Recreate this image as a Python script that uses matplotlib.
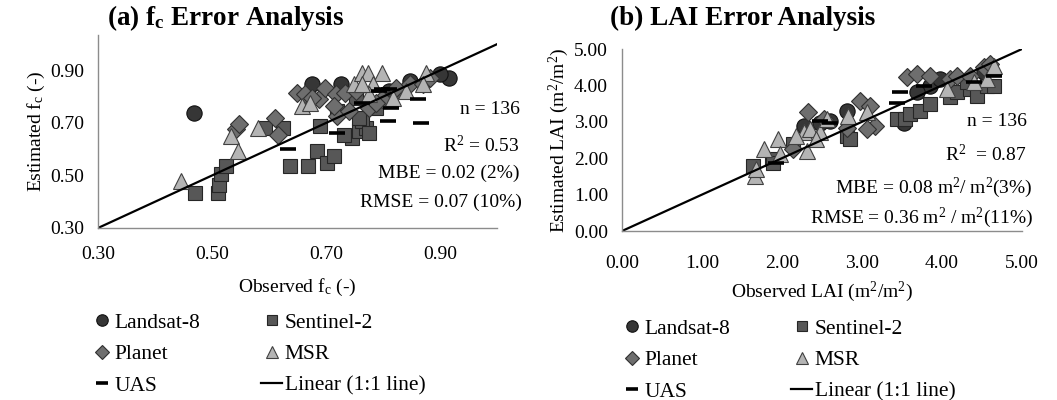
import matplotlib
matplotlib.use("Agg")
import matplotlib.pyplot as plt

plt.rcParams['font.family'] = ['Liberation Serif', 'DejaVu Serif']
plt.rcParams['mathtext.fontset'] = 'custom'
plt.rcParams['mathtext.rm'] = 'Liberation Serif'
plt.rcParams['mathtext.it'] = 'Liberation Serif:italic'
plt.rcParams['mathtext.bf'] = 'Liberation Serif:bold'

# ---------------- data: (a) fc ----------------
fc_landsat_x = [0.915, 0.900, 0.847, 0.675, 0.726, 0.468, 0.811]
fc_landsat_y = [0.873, 0.886, 0.860, 0.847, 0.847, 0.739, 0.822]
fc_sentinel_x = [0.471, 0.510, 0.513, 0.516, 0.525, 0.637, 0.669, 0.684, 0.702, 0.714, 0.746, 0.731,
                 0.758, 0.770, 0.764, 0.758, 0.690, 0.593, 0.625, 0.720, 0.752, 0.788, 0.776, 0.829]
fc_sentinel_y = [0.434, 0.434, 0.465, 0.504, 0.536, 0.536, 0.536, 0.593, 0.548, 0.574, 0.644, 0.656,
                 0.669, 0.682, 0.707, 0.720, 0.688, 0.682, 0.682, 0.746, 0.796, 0.758, 0.663, 0.822]
fc_planet_x = [0.542, 0.548, 0.610, 0.616, 0.649, 0.663, 0.687, 0.699, 0.717, 0.720, 0.734, 0.714,
               0.752, 0.776, 0.799, 0.823, 0.847, 0.870, 0.882, 0.675, 0.740, 0.788]
fc_planet_y = [0.676, 0.695, 0.720, 0.656, 0.816, 0.809, 0.790, 0.835, 0.809, 0.726, 0.816, 0.765,
               0.822, 0.758, 0.790, 0.835, 0.847, 0.847, 0.873, 0.796, 0.746, 0.777]
fc_msr_x = [0.445, 0.533, 0.545, 0.581, 0.658, 0.672, 0.749, 0.764, 0.773, 0.799, 0.782, 0.817,
            0.876, 0.870, 0.776, 0.764, 0.841]
fc_msr_y = [0.478, 0.650, 0.593, 0.682, 0.765, 0.777, 0.847, 0.892, 0.892, 0.892, 0.847, 0.796,
            0.892, 0.847, 0.809, 0.847, 0.822]
fc_uas_x = [0.634, 0.720, 0.808, 0.867, 0.861, 0.764, 0.799, 0.811, 0.814, 0.793]
fc_uas_y = [0.599, 0.663, 0.707, 0.701, 0.790, 0.777, 0.828, 0.828, 0.758, 0.822]
fc_line = [0.30, 1.00]
fc_ticks = [0.30, 0.50, 0.70, 0.90]
fc_stats = ["n = 136", "R$^{2}$ = 0.53", "MBE = 0.02 (2%)", "RMSE = 0.07 (10%)"]

# ---------------- data: (b) LAI ----------------
lai_landsat_x = [3.85, 3.69, 2.81, 2.27, 3.52, 2.60, 4.52, 3.98, 2.48]
lai_landsat_y = [3.99, 3.81, 3.30, 2.89, 2.98, 3.03, 4.36, 4.17, 2.98]
lai_sentinel_x = [1.64, 1.87, 1.89, 2.14, 2.81, 3.44, 3.54, 3.60, 3.73, 3.85, 4.10, 4.19,
                  4.35, 4.44, 4.56, 4.65, 4.31, 2.85]
lai_sentinel_y = [1.79, 1.97, 1.88, 2.39, 2.61, 3.07, 3.07, 3.21, 3.30, 3.49, 3.67, 3.81,
                  3.90, 3.72, 3.99, 3.99, 4.08, 2.52]
lai_planet_x = [2.33, 2.98, 3.10, 3.16, 3.06, 3.56, 3.69, 3.85, 4.10, 4.19, 4.52, 4.60,
                4.35, 2.14, 2.52, 2.81]
lai_planet_y = [3.26, 3.58, 3.44, 2.89, 2.80, 4.22, 4.31, 4.27, 4.17, 4.27, 4.50, 4.59,
                4.27, 2.25, 3.07, 2.84]
lai_msr_x = [1.66, 1.68, 1.77, 1.95, 1.97, 2.31, 2.27, 2.35, 2.48, 2.56, 2.83, 3.06,
             4.06, 4.56, 4.65, 2.18, 2.43, 4.40]
lai_msr_y = [1.51, 1.70, 2.25, 2.52, 2.11, 2.20, 2.71, 2.80, 2.71, 3.07, 3.17, 3.26,
             3.90, 4.17, 4.54, 2.61, 2.52, 4.08]
lai_uas_x = [3.44, 3.48, 1.93, 2.48, 4.40, 4.65, 2.60, 3.77]
lai_uas_y = [3.53, 3.81, 1.88, 3.03, 4.08, 4.27, 2.98, 3.99]
lai_line = [0.0, 5.0]
lai_ticks = [0.0, 1.0, 2.0, 3.0, 4.0, 5.0]
lai_stats = ["n = 136", "R$^{2}$  = 0.87", "MBE = 0.08 m$^{2}$/ m$^{2}$(3%)",
             "RMSE = 0.36 m$^{2}$ / m$^{2}$(11%)"]

labels = ["Landsat-8", "Sentinel-2", "Planet", "MSR", "UAS", "Linear (1:1 line)"]

W, H = 1057, 400
fig = plt.figure(figsize=(W / 100, H / 100), dpi=100)

styles = {
    "Landsat-8": dict(marker='o', ms=11, mfc='#363636', mec='#111111', mew=0.8),
    "Sentinel-2": dict(marker='s', ms=10.5, mfc='#575757', mec='#262626', mew=0.8),
    "Planet": dict(marker='D', ms=9.5, mfc='#6e6e6e', mec='#303030', mew=0.8),
    "MSR": dict(marker='^', ms=11, mfc='#b4b4b4', mec='#404040', mew=0.8),
    "UAS": dict(marker='_', ms=11, mec='black', mew=2.6),
}

FS = 14
LFS = 15.5


def fig_rect(l, t, r, b):
    return [l / W, 1 - b / H, (r - l) / W, (b - t) / H]


def panel(rect, data, line, ticks, xlim, ylim, fmt, title, xlabel, ylabel,
          stats, stats_x, stats_y, title_xy, leg_xy, tick_pad, xlabelpad):
    ax = fig.add_axes(rect)
    handles = []
    for name, (xs, ys) in zip(labels[:5], data):
        h, = ax.plot(xs, ys, linestyle='none', label=name, **styles[name])
        handles.append(h)
    hl, = ax.plot(line, line, color='black', lw=1.6, label=labels[5])
    handles.append(hl)
    ax.set_xlim(*xlim)
    ax.set_ylim(*ylim)
    ax.set_xticks(ticks)
    ax.set_yticks(ticks)
    ax.set_xticklabels([fmt.format(t) for t in ticks])
    ax.set_yticklabels([fmt.format(t) for t in ticks])
    ax.tick_params(length=0, labelsize=FS)
    ax.tick_params(axis='x', pad=tick_pad[0])
    ax.tick_params(axis='y', pad=tick_pad[1])
    for s in ['top', 'right']:
        ax.spines[s].set_visible(False)
    for s in ['left', 'bottom']:
        ax.spines[s].set_color('#8c8c8c')
        ax.spines[s].set_linewidth(1.0)
    ax.set_xlabel(xlabel, fontsize=FS, labelpad=xlabelpad)
    ax.set_ylabel(ylabel, fontsize=FS, labelpad=2)
    fig.text(title_xy[0] / W, 1 - title_xy[1] / H, title, fontsize=19.5, fontweight='bold',
             ha='left', va='center')
    for s, xx, yy in zip(stats, stats_x, stats_y):
        fig.text(xx / W, 1 - yy / H, s, fontsize=FS, ha='right', va='center')
    order = [0, 2, 4, 1, 3, 5]
    fig.legend([handles[i] for i in order], [labels[i] for i in order], ncol=2,
               loc='upper left', bbox_to_anchor=(leg_xy[0] / W, 1 - leg_xy[1] / H),
               frameon=False, fontsize=LFS, markerscale=0.75, handlelength=1.0,
               handletextpad=0.1, labelspacing=0.53, columnspacing=2.8, borderpad=0,
               borderaxespad=0)
    return ax


panel(fig_rect(98, 35, 497, 228),
      [(fc_landsat_x, fc_landsat_y), (fc_sentinel_x, fc_sentinel_y),
       (fc_planet_x, fc_planet_y), (fc_msr_x, fc_msr_y), (fc_uas_x, fc_uas_y)],
      fc_line, fc_ticks, (0.30, 1.0), (0.30, 1.035), "{:.2f}",
      r"(a) f$_\mathbf{c}$ Error Analysis", r"Observed f$_\mathrm{c}$ (-)",
      r"Estimated f$_\mathrm{c}$ (-)",
      fc_stats, [520, 520, 519, 522], [110, 145, 173, 202], (107, 18), (91, 312.5),
      (13, 10), 10)

panel(fig_rect(622, 49, 1022, 231),
      [(lai_landsat_x, lai_landsat_y), (lai_sentinel_x, lai_sentinel_y),
       (lai_planet_x, lai_planet_y), (lai_msr_x, lai_msr_y), (lai_uas_x, lai_uas_y)],
      lai_line, lai_ticks, (0.0, 5.0), (0.0, 5.0), "{:.2f}",
      "(b) LAI Error Analysis", "Observed LAI (m$^{2}$/m$^{2}$)",
      "Estimated LAI (m$^{2}$/m$^{2}$)",
      lai_stats, [1027, 1027, 1033, 1033], [122, 155, 188, 218], (610, 18), (621, 318.5),
      (17, 10), 6)

fig.savefig("out.png", dpi=100)
